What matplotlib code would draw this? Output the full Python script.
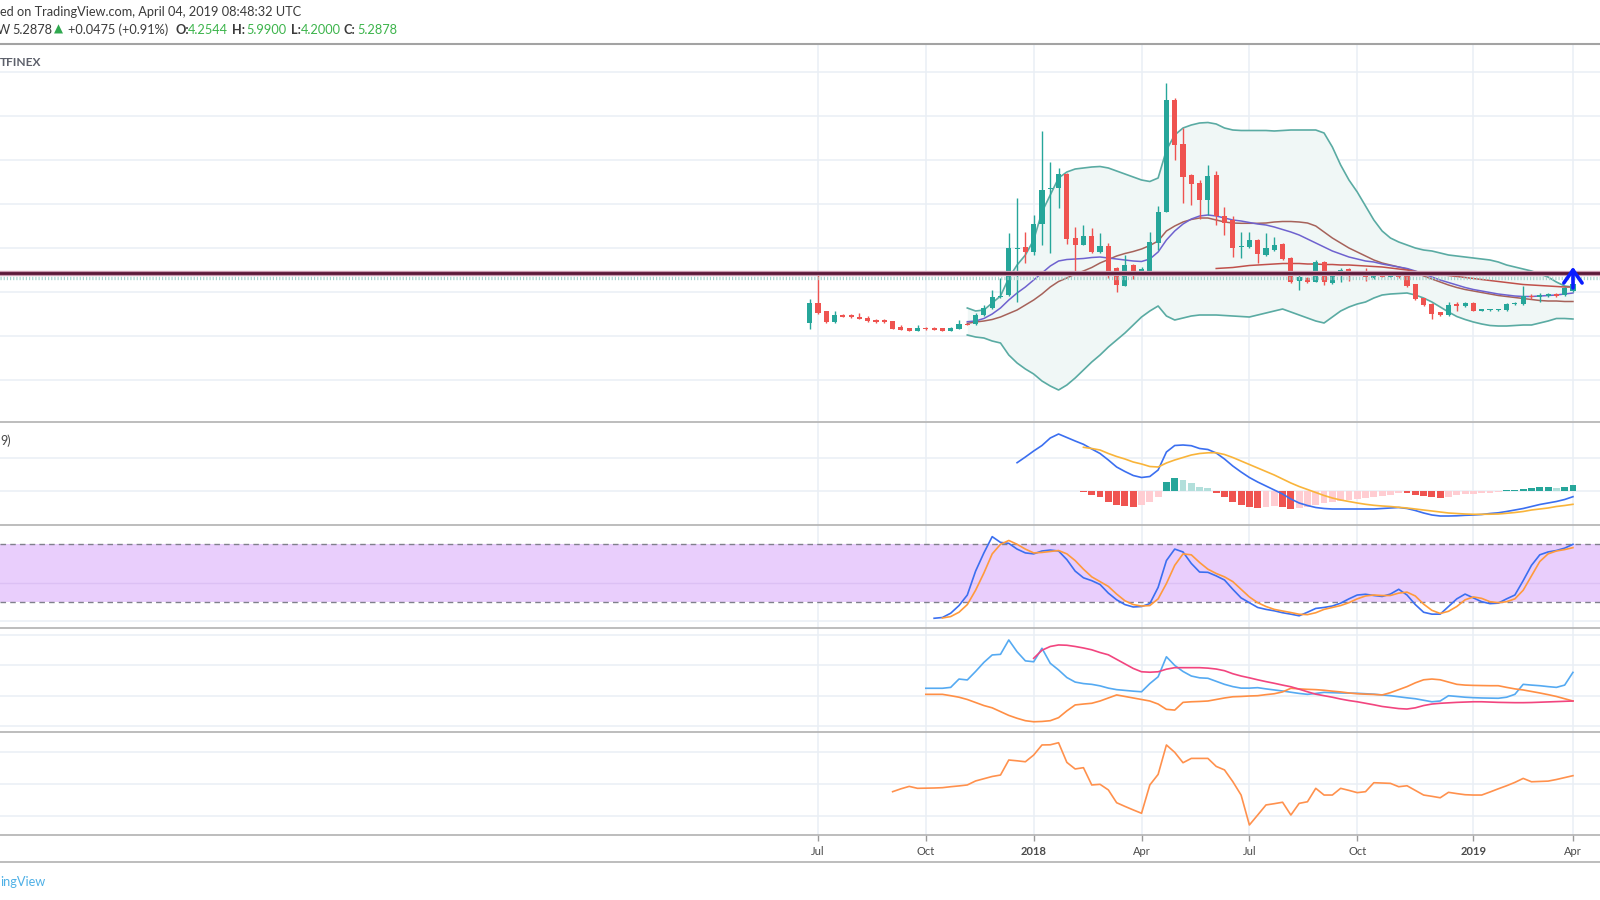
import numpy as np
import pandas as pd
import matplotlib
matplotlib.use("Agg")
import matplotlib.pyplot as plt
import matplotlib.dates as mdates
from matplotlib.lines import Line2D

plt.rcParams['font.family'] = ['Lato', 'DejaVu Sans']

# ---------------- data ----------------
first_week = "2017-06-26"
n_weeks = 93
week_dates = pd.date_range(first_week, periods=n_weeks, freq="7D")

candle_open = [5.67, 7.67, 6.87, 5.8, 6.53, 6.47, 6.33, 6.23, 6.0, 6.0,
               5.9, 5.3, 5.17, 4.9, 5.23, 5.2, 5.17, 4.9, 5.13, 5.6,
               5.6, 6.5, 7.17, 8.27, 8.5, 13.1, 13.27, 12.83, 15.6, 19.1,
               19.17, 20.6, 14.17, 13.5, 14.43, 12.77, 13.43, 11.17, 9.43, 11.5,
               10.67, 10.93, 13.73, 16.83, 28.0, 23.57, 20.5, 19.73, 18.0, 20.5,
               16.4, 16.0, 13.27, 13.33, 14.0, 12.5, 13.0, 13.6, 12.17, 9.93,
               10.17, 9.83, 11.77, 9.73, 10.5, 11.07, 10.73, 10.93, 10.17, 10.5,
               10.33, 10.5, 10.57, 9.57, 8.17, 7.57, 6.77, 6.5, 7.57, 7.43,
               7.67, 6.93, 7.0, 7.0, 7.0, 7.57, 7.6, 8.4, 8.33, 8.43,
               8.6, 8.5, 8.9]
candle_high = [8.07, 10.57, 6.9, 6.87, 6.6, 6.63, 6.67, 6.37, 6.15, 6.1,
               5.95, 5.47, 5.2, 5.47, 5.27, 5.3, 5.2, 5.3, 6.0, 5.65,
               6.7, 7.5, 9.0, 10.17, 14.67, 18.17, 14.83, 16.5, 24.9, 21.83,
               21.17, 20.65, 15.33, 15.5, 15.17, 14.67, 13.67, 11.3, 12.5, 11.6,
               11.33, 14.83, 17.43, 29.73, 28.23, 25.17, 20.6, 20.0, 21.5, 20.9,
               17.33, 16.4, 14.77, 14.83, 14.1, 14.73, 14.33, 13.7, 12.3, 10.57,
               10.33, 12.0, 11.9, 10.67, 11.17, 11.2, 10.95, 11.17, 10.67, 10.6,
               10.6, 10.7, 10.65, 9.6, 8.2, 7.7, 6.8, 7.83, 7.83, 7.8,
               7.8, 7.15, 7.13, 7.13, 7.7, 7.85, 9.4, 8.6, 8.73, 8.7,
               8.7, 9.27, 10.0]
candle_low = [5.07, 6.6, 5.7, 5.75, 6.3, 6.23, 6.1, 5.8, 5.75, 5.75,
              5.1, 5.0, 4.9, 4.87, 5.03, 5.0, 4.9, 4.87, 5.13, 5.5,
              5.5, 6.4, 7.1, 8.2, 8.4, 7.83, 11.67, 12.5, 13.5, 12.73,
              17.17, 13.6, 10.93, 13.45, 12.7, 12.7, 10.17, 8.77, 9.4, 10.1,
              10.65, 10.9, 13.0, 16.8, 22.0, 17.73, 17.5, 16.07, 16.5, 15.5,
              14.5, 12.33, 12.17, 13.2, 11.67, 12.4, 12.9, 12.0, 9.73, 9.0,
              9.67, 9.8, 9.5, 9.6, 9.83, 9.93, 10.65, 9.93, 10.1, 10.3,
              10.3, 10.2, 9.3, 8.0, 7.4, 6.07, 6.4, 6.45, 6.93, 7.35,
              6.9, 6.9, 6.93, 6.95, 6.95, 7.5, 7.55, 8.1, 7.83, 8.35,
              8.35, 8.45, 8.8]
candle_close = [7.67, 6.73, 5.8, 6.47, 6.33, 6.27, 6.13, 5.9, 5.8, 5.8,
                5.13, 5.03, 4.93, 5.2, 5.07, 5.03, 4.93, 5.23, 5.6, 5.53,
                6.47, 7.17, 8.33, 8.43, 13.17, 13.2, 12.77, 15.6, 19.0, 19.2,
                20.6, 14.1, 13.5, 14.43, 12.77, 13.4, 10.93, 9.5, 11.5, 10.67,
                11.07, 13.77, 16.83, 28.0, 23.5, 20.33, 19.6, 18.0, 20.43, 16.4,
                15.67, 13.17, 13.43, 14.0, 12.57, 13.17, 13.5, 12.07, 9.83, 10.27,
                9.83, 11.83, 9.77, 10.4, 11.0, 10.67, 10.9, 10.33, 10.5, 10.33,
                10.5, 10.27, 9.4, 8.07, 7.5, 6.6, 6.5, 7.5, 7.4, 7.67,
                6.93, 7.1, 7.1, 7.1, 7.6, 7.73, 8.4, 8.27, 8.5, 8.6,
                8.43, 9.17, 9.6]

bb_start = 19
bb_upper = [7.2, 6.9, 7.0, 7.7, 8.4, 10.2, 11.5, 12.5, 14.0, 16.8,
            18.5, 20.2, 20.8, 21.1, 21.2, 21.3, 21.35, 21.2, 20.9, 20.6,
            20.3, 20.0, 19.85, 20.2, 23.0, 24.5, 25.2, 25.5, 25.7, 25.75,
            25.6, 25.2, 25.0, 24.95, 24.95, 24.95, 24.95, 24.9, 24.95, 25.0,
            25.0, 25.0, 25.0, 24.7, 23.3, 21.5, 20.0, 18.8, 17.4, 16.0,
            14.9, 14.2, 13.8, 13.5, 13.2, 13.0, 12.9, 12.7, 12.5, 12.4,
            12.3, 12.2, 12.1, 12.0, 11.8, 11.5, 11.3, 11.1, 10.9, 10.6,
            10.3, 9.8, 9.4, 9.3]
bb_lower = [4.5, 4.3, 4.2, 3.9, 3.7, 2.5, 1.7, 1.1, 0.6, -0.1,
            -0.6, -1.0, -0.5, 0.2, 1.0, 1.8, 2.5, 3.3, 4.0, 4.7,
            5.5, 6.3, 6.9, 7.4, 6.4, 6.0, 6.2, 6.4, 6.5, 6.5,
            6.5, 6.45, 6.4, 6.35, 6.3, 6.5, 6.7, 6.9, 7.1, 6.8,
            6.5, 6.2, 5.9, 5.7, 6.3, 6.9, 7.3, 7.6, 7.8, 8.2,
            8.5, 8.6, 8.65, 8.7, 8.5, 8.2, 7.8, 7.3, 6.8, 6.35,
            6.05, 5.8, 5.6, 5.45, 5.4, 5.4, 5.45, 5.5, 5.5, 5.7,
            5.9, 6.15, 6.15, 6.1]
bb_basis = [5.67, 5.8, 5.9, 6.05, 6.3, 6.65, 7.0, 7.5, 8.0, 8.6,
            9.3, 9.85, 10.2, 10.6, 10.9, 11.25, 11.7, 12.05, 12.4, 12.65,
            12.85, 13.1, 13.45, 13.9, 14.9, 15.4, 15.8, 16.05, 16.2, 16.2,
            16.0, 15.8, 15.7, 15.67, 15.67, 15.67, 15.7, 15.8, 15.85, 15.85,
            15.8, 15.7, 15.4, 14.8, 14.2, 13.7, 13.2, 12.8, 12.4, 12.0,
            11.7, 11.5, 11.3, 11.1, 10.8, 10.4, 10.1, 9.8, 9.5, 9.25,
            9.05, 8.9, 8.75, 8.6, 8.45, 8.35, 8.25, 8.15, 8.05, 7.95,
            7.9, 7.9, 7.85, 7.85]
ema20 = [5.83, 5.9, 6.15, 6.6, 7.2, 8.0, 8.7, 9.3, 10.0, 10.7,
         11.4, 11.9, 12.05, 12.1, 12.15, 12.25, 12.3, 12.2, 12.1, 12.0,
         11.9, 11.85, 12.1, 12.8, 14.0, 14.9, 15.6, 16.1, 16.4, 16.5,
         16.4, 16.2, 16.0, 15.9, 15.75, 15.6, 15.5, 15.3, 15.05, 14.8,
         14.5, 14.1, 13.7, 13.3, 12.9, 12.6, 12.3, 12.1, 11.9, 11.8,
         11.6, 11.45, 11.3, 11.15, 10.9, 10.6, 10.3, 10.0, 9.75, 9.5,
         9.25, 9.05, 8.9, 8.75, 8.6, 8.5, 8.4, 8.35, 8.35, 8.4,
         8.45, 8.5, 8.6, 8.7]
ma50_start = 49
ma50 = [11.15, 11.2, 11.25, 11.35, 11.45, 11.5, 11.55, 11.6, 11.65, 11.65,
        11.65, 11.6, 11.6, 11.55, 11.55, 11.5, 11.5, 11.45, 11.4, 11.35,
        11.3, 11.2, 11.1, 11.0, 10.85, 10.75, 10.65, 10.55, 10.45, 10.35,
        10.25, 10.15, 10.05, 9.95, 9.85, 9.75, 9.65, 9.55, 9.5, 9.45,
        9.4, 9.35, 9.3, 9.3]
hline_level = 10.67
price_line_level = 10.23
arrow_low, arrow_high, arrow_head = 9.2, 11.0, 9.7

macd_start = 25
macd_line = [2.83, 3.4, 4.0, 4.55, 5.3, 5.7, 5.35, 5.0, 4.67, 4.2,
             3.75, 3.1, 2.4, 1.95, 1.55, 1.35, 1.45, 2.1, 3.9, 4.55,
             4.6, 4.53, 4.25, 4.15, 3.8, 3.2, 2.5, 1.9, 1.35, 0.9,
             0.5, 0.1, -0.3, -0.8, -1.2, -1.45, -1.65, -1.75, -1.8, -1.8,
             -1.8, -1.8, -1.8, -1.8, -1.75, -1.7, -1.65, -1.75, -1.95, -2.2,
             -2.4, -2.5, -2.5, -2.48, -2.43, -2.4, -2.35, -2.25, -2.18, -2.05,
             -1.9, -1.75, -1.55, -1.35, -1.2, -1.05, -0.85, -0.57]
signal_start = 33
signal_line = [4.37, 4.25, 4.1, 3.75, 3.45, 3.2, 2.9, 2.7, 2.45, 2.4,
               2.8, 3.1, 3.35, 3.6, 3.75, 3.82, 3.83, 3.65, 3.35, 3.0,
               2.65, 2.3, 1.95, 1.6, 1.2, 0.8, 0.45, 0.15, -0.15, -0.45,
               -0.7, -0.9, -1.05, -1.2, -1.33, -1.43, -1.5, -1.55, -1.63, -1.7,
               -1.8, -1.9, -2.0, -2.1, -2.2, -2.25, -2.3, -2.33, -2.33, -2.32,
               -2.3, -2.23, -2.15, -2.05, -1.9, -1.8, -1.7, -1.55, -1.45, -1.33]
macd_hist = [-0.05, -0.4, -0.63, -1.07, -1.4, -1.45, -1.57, -1.4, -1.07, -0.63,
             0.93, 1.33, 1.1, 0.77, 0.37, 0.27, -0.17, -0.63, -1.07, -1.4,
             -1.57, -1.67, -1.57, -1.5, -1.6, -1.8, -1.73, -1.57, -1.4, -1.23,
             -1.07, -0.97, -0.87, -0.77, -0.67, -0.57, -0.47, -0.37, -0.2, -0.23,
             -0.4, -0.5, -0.63, -0.73, -0.57, -0.43, -0.33, -0.3, -0.23, -0.17,
             -0.07, 0.07, 0.1, 0.2, 0.33, 0.37, 0.4, 0.33, 0.43, 0.6]

stoch_k_start = 15
stoch_k = [2.7, 3.5, 8, 16, 27, 52, 71, 88, 82, 81,
           75, 71, 70, 73, 74, 73, 64, 52, 45, 42,
           38, 29, 22, 17, 14.5, 15, 18, 35, 63, 75,
           72, 60, 51, 50.7, 47, 42.7, 33, 24, 19, 14,
           12, 10.5, 8.5, 7, 5.3, 9, 13, 14, 15.5, 18.5,
           23, 27, 27.8, 26.5, 25.5, 28, 33, 27, 17, 9,
           7, 7, 15, 23, 28, 24, 20, 18, 18.5, 23,
           27, 42, 58, 69, 72, 73.5, 76, 80]
stoch_d_start = 16
stoch_d = [3, 4.5, 9, 17, 32, 50, 70, 80, 84,
           80, 75, 71, 71.5, 72.5, 73.5, 70, 63, 54, 46,
           41, 36, 28, 21, 17, 15.5, 16, 23, 39, 58,
           70, 69, 61, 54, 49.5, 46, 41, 33, 25, 19,
           15, 12, 10.3, 8.7, 6.9, 6.5, 8.5, 12, 14, 16,
           19, 23, 26, 27, 26.5, 26.5, 29, 30, 26, 17.5,
           11, 7.7, 10, 15, 22, 25, 23.5, 20, 19, 20,
           23, 32, 47, 62, 70, 73, 74.5, 76.5]
stoch_upper, stoch_lower, stoch_mid_grid = 80, 20, 40

dmi_start = 14
plus_di = [24.9, 24.9, 24.9, 25.5, 31, 30.4, 36, 42, 46.9, 47.3,
           56.8, 49, 43, 42.4, 51.3, 41.4, 37, 32, 29, 28,
           27.5, 26.5, 25, 24, 23.5, 23, 22.6, 28, 32.5, 45.7,
           40, 36, 33, 31.8, 31.5, 29.5, 27.5, 26, 25, 25,
           25.3, 24.5, 23.8, 23.1, 22.3, 21.5, 20.9, 21.5, 22.2, 22,
           21.8, 21.7, 21.6, 21.3, 21, 20.5, 20, 19.3, 18.6, 18,
           17, 16, 16.5, 20, 19.5, 19, 18.7, 18.5, 18.4, 18.3,
           19, 20.9, 27.5, 27, 26.6, 26, 25.5, 27, 35.4]
minus_di = [20.9, 20.9, 20.9, 20, 19, 17.5, 15.5, 13.5, 12, 9.5,
            7, 5.1, 3.5, 2.8, 3, 3.5, 5.5, 10, 13.9, 14.5,
            15, 16.5, 18.5, 20.5, 19.5, 18.5, 17.5, 16.5, 14.5, 11,
            10.5, 15.6, 16, 16.2, 16.5, 17.5, 18.5, 19.3, 19.5, 19.8,
            20, 20.7, 21.3, 22.5, 24.9, 24.5, 24.2, 24, 23.6, 23,
            22.5, 21.8, 21.3, 21, 20.8, 20.5, 22, 24, 26, 28.5,
            30.5, 31, 30.5, 29, 27.5, 27, 26.8, 26.7, 26.6, 26.6,
            25.5, 24.5, 23.8, 22.8, 21.8, 20.7, 19.5, 18, 16.5]
adx_start = 27
adx = [44.7, 50, 52.5, 53.5, 53.3, 52.5, 51.5, 50.3, 48.5, 47,
       44, 41, 38, 35.8, 35.5, 35.8, 37.5, 38.5, 38.5, 38.5,
       38.5, 38.2, 37.6, 36.5, 34.5, 33, 31.8, 30.5, 29.3, 28.2,
       27, 25.9, 24.3, 22.6, 21, 20, 19, 17.8, 16.8, 16,
       15, 14, 12.9, 12.2, 11.5, 11.2, 12, 13.5, 14.5, 15,
       15.3, 15.6, 15.8, 16, 16, 15.8, 15.6, 15.5, 15.4, 15.4,
       15.5, 15.7, 15.9, 16.1, 16.3, 16.5]

osc_start = 10
osc = [15.2, 17, 18.5, 17.3, 17.4, 17.5, 17.7, 18.3, 18.8, 19.4,
       21.9, 23.3, 24.7, 25.6, 35, 34.5, 33.9, 38.1, 44.4, 44.5,
       45.8, 33.5, 29.4, 30.2, 19.4, 19.8, 16.3, 8.3, 6, 3.8,
       1.7, 19.4, 26, 44.4, 39.8, 33.3, 36, 36, 36, 31,
       28.8, 21.5, 13.1, -5.6, 0.6, 6.9, 7.7, 8.6, 0.6, 7.9,
       8.9, 17.3, 13.1, 13.1, 17.3, 16, 14.6, 15.2, 20.8, 20.6,
       20.4, 18.3, 18.9, 16, 13.1, 12.3, 11.4, 14.8, 14, 13.3,
       13.1, 13.1, 15, 17, 18.9, 21, 23.5, 21.4, 21.6, 21.8,
       22.8, 24, 25.2]

tick_dates = ["2017-07-03", "2017-10-02", "2018-01-01", "2018-04-02",
              "2018-07-02", "2018-10-01", "2019-01-07", "2019-04-01"]
tick_labels = ["Jul", "Oct", "2018", "Apr", "Jul", "Oct", "2019", "Apr"]

# ---------------- style ----------------
GREEN = '#26a69a'
RED = '#ef5350'
GRID = '#e9eff5'
SEP = '#b2b2b2'
W, H = 1600, 900

fig = plt.figure(figsize=(16, 9), dpi=100)
fig.patch.set_facecolor('white')

x = mdates.date2num(week_dates)
wk = 7.0
x0 = x[0]
xlim = (x0 - 97.59 * wk, x0 + 95.26 * wk)
tick_x = mdates.date2num(pd.to_datetime(tick_dates))


def pane(top, bottom, ylim, yticks):
    ax = fig.add_axes([0, 1 - bottom / H, 1, (bottom - top) / H])
    ax.set_xlim(*xlim)
    ax.set_ylim(*ylim)
    for s in ax.spines.values():
        s.set_visible(False)
    ax.set_yticks([])
    ax.set_xticks([])
    for t in tick_x:
        ax.axvline(t, color=GRID, lw=1.1, zorder=0)
    for v in yticks:
        ax.axhline(v, color=GRID, lw=1.1, zorder=0)
    return ax


# ---- main pane ----
ax1 = pane(45, 421, (-4.1, 33.5), np.arange(0, 31, 4.4))
xb = x[bb_start:]
ax1.fill_between(xb, bb_lower, bb_upper, color='#f0f7f6', zorder=1, lw=0)
ax1.plot(xb, bb_upper, color='#5aaba3', lw=1.2, zorder=2)
ax1.plot(xb, bb_lower, color='#5aaba3', lw=1.2, zorder=2)
ax1.plot(xb, bb_basis, color='#a6625a', lw=1.1, zorder=2)
ax1.plot(xb, ema20, color='#6e62cf', lw=1.1, zorder=2)
ax1.plot(x[ma50_start:], ma50, color='#c0504a', lw=1.1, zorder=2)

o = np.array(candle_open); hi = np.array(candle_high)
lo = np.array(candle_low); c = np.array(candle_close)
cols = np.where(c >= o, GREEN, RED)
ax1.vlines(x, lo, hi, colors=cols, lw=1.0, zorder=3)
body_bot = np.minimum(o, c)
body_h = np.maximum(np.abs(c - o), 0.1)
ax1.bar(x, body_h, bottom=body_bot, width=4.3, color=cols, lw=0, zorder=3)

ax1.axhline(price_line_level, color='#a3d4ce', lw=2.4,
            linestyle=(0, (0.35, 0.6)), zorder=4)
ax1.axhline(hline_level, color='#c89ab0', lw=3.8, zorder=4)
ax1.axhline(hline_level, color='#5a1838', lw=2.0, zorder=5)

xa = x[-1]
ax1.plot([xa, xa], [arrow_low, arrow_high], color='#0a1cff', lw=2.6,
         solid_capstyle='round', zorder=6)
ax1.plot([xa - 1.1 * wk, xa, xa + 1.1 * wk], [arrow_head, arrow_high, arrow_head],
         color='#0a1cff', lw=2.6, solid_capstyle='round', solid_joinstyle='round',
         zorder=6)

# ---- MACD pane ----
ax2 = pane(422, 525, (-3.4, 6.9), [0, 3.3])
hv = np.array(macd_hist)
prev = np.concatenate([[0.0], hv[:-1]])
hcols = np.where(hv >= 0, np.where(hv > prev, '#26a69a', '#b2dfdb'),
                 np.where(hv < prev, '#ef5350', '#ffcdd2'))
ax2.bar(x[signal_start:], hv, width=5.8, color=hcols, lw=0, zorder=2)
ax2.plot(x[macd_start:], macd_line, color='#3b6ff0', lw=1.2, zorder=3)
ax2.plot(x[signal_start:], signal_line, color='#f9b43a', lw=1.2, zorder=3)

# ---- Stoch pane ----
ax3 = pane(525, 628, (-7.46, 100.17), [0])
ax3.axhspan(stoch_lower, stoch_upper, color='#e9cefc', zorder=1, lw=0)
ax3.axhline(stoch_mid_grid, color='#dcc0f4', lw=1.0, zorder=1.5)
for lvl in (stoch_upper, stoch_lower):
    ax3.axhline(lvl, color='#80808c', lw=1.0, linestyle=(0, (4, 3)), zorder=2)
ax3.plot(x[stoch_k_start:], stoch_k, color='#3b6ff0', lw=1.2, zorder=3)
ax3.plot(x[stoch_d_start:], stoch_d, color='#ff9a3c', lw=1.2, zorder=3)

# ---- DMI pane ----
ax4 = pane(628, 732, (-3.96, 64.69), [0, 20, 40, 60])
ax4.plot(x[dmi_start:], plus_di, color='#55aaf2', lw=1.2, zorder=3)
ax4.plot(x[dmi_start:], minus_di, color='#ff8f45', lw=1.2, zorder=3)
ax4.plot(x[adx_start:], adx, color='#f2457f', lw=1.2, zorder=3)

# ---- bottom oscillator pane ----
ax5 = pane(732, 835, (-11.875, 52.5), [0, 20, 40])
ax5.plot(x[osc_start:], osc, color='#ff914d', lw=1.2, zorder=3)
ax5.set_xticks(tick_x)
ax5.set_xticklabels(tick_labels)
ax5.tick_params(axis='x', direction='out', length=4, width=1, color='#9a9a9a',
                labelsize=8, labelcolor='#4a4a4a', pad=4)
for lab in ax5.get_xticklabels():
    if lab.get_text().startswith('20'):
        lab.set_fontweight('bold')

# ---- separators ----
for yy, col, lw in [(44, '#a3a3a3', 1.5), (422, SEP, 1.2), (525, SEP, 1.2),
                    (628, SEP, 1.2), (732, SEP, 1.2), (835, SEP, 1.2),
                    (862, SEP, 1.2)]:
    fig.add_artist(Line2D([0, 1], [1 - yy / H] * 2, transform=fig.transFigure,
                          color=col, lw=lw))

# ---- texts ----
def ftext(px, py, s, **kw):
    fig.text(px / W, 1 - py / H, s, ha='left', va='center', **kw)


DARK = '#3b3b3b'
VGREEN = '#3cb44b'
ftext(0, 12.5, "ed on TradingView.com, April 04, 2019 08:48:32 UTC",
      fontsize=9.2, color=DARK)
ftext(-3, 29.5, "W", fontsize=9.2, color=DARK)
ftext(12.5, 29.5, "5.2878", fontsize=9.2, color=DARK)
ftext(54, 29.5, "\u25B2", fontsize=8.5, color='#2fa84f',
      family=['DejaVu Sans'])
ftext(68, 29.5, "+0.0475 (+0.91%)", fontsize=9.2, color=DARK)
for lbl, lx, val, vx in [("O:", 175, "4.2544", 188), ("H:", 232, "5.9900", 246),
                         ("L:", 291, "4.2000", 301), ("C:", 343, "5.2878", 357)]:
    ftext(lx, 29.5, lbl, fontsize=9.2, color=DARK, fontweight='bold')
    ftext(vx, 29.5, val, fontsize=9.2, color=VGREEN)
ftext(0, 62, "TFINEX", fontsize=8.6, color='#5d606b', fontweight='bold')
ftext(0, 441, "9)", fontsize=9, color='#4a4a4a')
ftext(0, 882, "ingView", fontsize=9.2, color='#4fb0e6')

fig.savefig("out.png", dpi=100, facecolor='white')
